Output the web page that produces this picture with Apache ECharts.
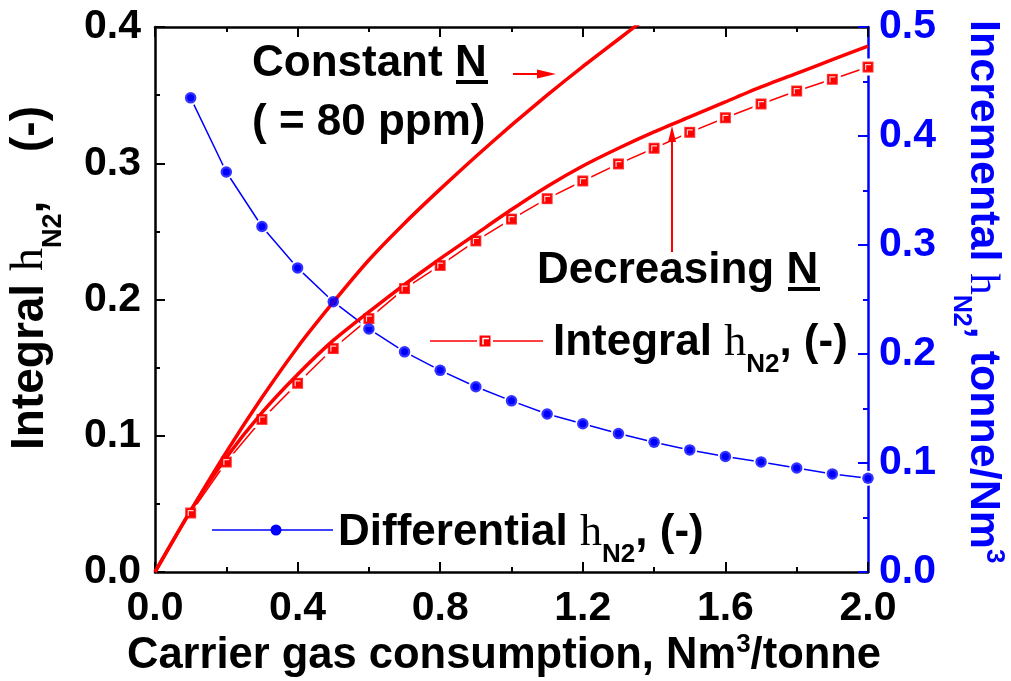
<!DOCTYPE html>
<html><head><meta charset="utf-8">
<script src="https://cdn.jsdelivr.net/npm/echarts@6/dist/echarts.min.js"></script>
<style>html,body{margin:0;padding:0;background:#fff}#c{width:1011px;height:681px}</style>
</head><body><div id="c"></div>
<script>
// ---- data ----
const pointX = [0.1,0.2,0.3,0.4,0.5,0.6,0.7,0.8,0.9,1.0,1.1,1.2,1.3,1.4,1.5,1.6,1.7,1.8,1.9,2.0];
const integralY = [0.0433,0.0807,0.112,0.1385,0.164,0.186,0.208,0.225,0.243,0.259,0.274,0.287,0.2995,0.311,0.3227,0.3334,0.3435,0.353,0.3616,0.3706];
const differentialY = [0.435,0.367,0.317,0.279,0.248,0.223,0.202,0.185,0.170,0.157,0.145,0.136,0.127,0.119,0.112,0.106,0.101,0.0954,0.090,0.086];
const constantX = [0,0.1,0.2,0.3,0.4,0.5,0.6,0.7,0.8,0.9,1.0,1.1,1.2,1.3,1.36];
const constantY = [0,0.045,0.088,0.128,0.165,0.198,0.229,0.256,0.281,0.305,0.328,0.350,0.371,0.391,0.403];
const decreasingX = [0,0.1,0.2,0.3,0.4,0.5,0.6,0.7,0.8,0.9,1.0,1.1,1.2,1.3,1.4,1.5,1.6,1.7,1.8,1.9,2.0];
const decreasingY = [0,0.045,0.084,0.117,0.145,0.170,0.191,0.211,0.230,0.248,0.266,0.283,0.298,0.311,0.323,0.334,0.345,0.356,0.366,0.376,0.386];
const xTicks = {min:0,max:2,interval:0.4};
const yLeftTicks = {min:0,max:0.4,interval:0.1};
const yRightTicks = {min:0,max:0.5,interval:0.1};

const zip = (a,b)=>a.map((v,i)=>[v,b[i]]);
const SANS = 'Liberation Sans, Arial, sans-serif';
const SERIF = 'Liberation Serif, Times New Roman, serif';
const RED = '#ff0000', BLUE = '#0000ff';

const cv = document.createElement('canvas').getContext('2d');
function tw(t, size, weight, fam){ cv.font = (weight||'normal')+' '+size+'px '+fam; return cv.measureText(t).width; }
function richLine(pieces, x, y, rotation, color){
  let cx = 0; const ch = [];
  pieces.forEach(p=>{
    ch.push({type:'text', x:cx, y:(p.dy||0), style:{text:p.t, fill:color, font:(p.weight||'bold')+' '+p.size+'px '+p.fam, textAlign:'left', textVerticalAlign:'bottom', verticalAlign:'bottom'}});
    cx += tw(p.t, p.size, p.weight||'bold', p.fam) + (p.gap||0);
  });
  return {type:'group', x:x, y:y, rotation:rotation||0, children:ch};
}
function hPieces(size, lead, trail, gap){
  return [
    {t:lead, size:size, fam:SANS},
    {t:'h', size:size, weight:'normal', fam:SERIF, dy:0},
    {t:'N2', size:Math.round(size*0.58), fam:SANS, dy:size*0.3},
    {t:',', size:size, fam:SANS, gap:gap||0},
    {t:trail, size:size, fam:SANS}
  ];
}

const chart = echarts.init(document.getElementById('c'), null, {renderer:'canvas'});
const axisCommon = (color, showLabel, margin)=>({
  axisLine:{show:true, onZero:false, lineStyle:{color:color, width:2.5}},
  axisTick:{show:true, inside:true, length:10, lineStyle:{color:color, width:2}},
  minorTick:{show:true, splitNumber:2, length:5, lineStyle:{color:color, width:2}},
  splitLine:{show:false}, minorSplitLine:{show:false},
  axisLabel:{show:showLabel, margin:margin||8, color:color, fontFamily:SANS, fontWeight:'bold', fontSize:41, formatter:v=>v.toFixed(1)}
});

const graphics = [];
graphics.push(richLine([
  {t:'Carrier gas consumption, Nm', size:43.5, fam:SANS},
  {t:'3', size:26, fam:SANS, dy:-20},
  {t:'/tonne', size:43.5, fam:SANS}
], 127, 678, 0, '#000'));
graphics.push(richLine(hPieces(46,'Integral ',' (-)', 36), 53, 450, Math.PI/2, '#000'));
graphics.push(richLine([
  {t:'Incremental ', size:43, fam:SANS},
  {t:'h', size:43, weight:'normal', fam:SERIF},
  {t:'N2', size:25, fam:SANS, dy:13},
  {t:', tonne/Nm', size:43, fam:SANS},
  {t:'3', size:26, fam:SANS, dy:-20}
], 961, 20, -Math.PI/2, BLUE));
graphics.push(richLine([{t:'Constant N', size:44, fam:SANS}], 252, 86, 0, '#000'));
graphics.push({type:'rect', shape:{x:456, y:80, width:32, height:4}, style:{fill:'#000'}});
graphics.push(richLine([{t:'( = 80 ppm)', size:44, fam:SANS}], 252, 145, 0, '#000'));
graphics.push(richLine([{t:'Decreasing N', size:44, fam:SANS}], 537, 293, 0, '#000'));
graphics.push({type:'rect', shape:{x:788, y:287, width:32, height:4}, style:{fill:'#000'}});
graphics.push({type:'line', shape:{x1:513,y1:74,x2:540,y2:74}, style:{stroke:RED, lineWidth:2}});
graphics.push({type:'polygon', shape:{points:[[537,69.5],[556,74],[537,78.5]]}, style:{fill:RED}});
graphics.push({type:'line', shape:{x1:672,y1:252,x2:672,y2:138}, style:{stroke:RED, lineWidth:2}});
graphics.push({type:'polygon', shape:{points:[[668,142],[672,126],[676,142]]}, style:{fill:RED}});
graphics.push({type:'line', shape:{x1:430,y1:341,x2:543,y2:341}, style:{stroke:RED, lineWidth:1.5}});
graphics.push({type:'rect', shape:{x:477,y:334,width:16,height:15}, style:{fill:'#fff'}});
graphics.push({type:'rect', shape:{x:479.5,y:335.5,width:11,height:11}, style:{fill:RED}});
graphics.push({type:'polyline', shape:{points:[[483,344.5],[483,338.5],[489,338.5]]}, style:{stroke:'#fff', lineWidth:1.5, fill:null}});
graphics.push(richLine(hPieces(44,'Integral ',' (-)'), 553, 365, 0, '#000'));
graphics.push({type:'line', shape:{x1:212,y1:530,x2:333,y2:530}, style:{stroke:BLUE, lineWidth:1.5}});
graphics.push({type:'circle', shape:{cx:276,cy:530,r:5.5}, style:{fill:BLUE}});
graphics.push(richLine(hPieces(44,'Differential ',' (-)'), 338, 555, 0, '#000'));

chart.setOption({
  animation:false,
  backgroundColor:'#fff',
  grid:{left:155, right:143, top:27, bottom:109, containLabel:false},
  xAxis:[
    Object.assign({type:'value', position:'bottom'}, xTicks, axisCommon('#000', true, 16)),
    Object.assign({type:'value', position:'top'}, xTicks, axisCommon('#000', false))
  ],
  yAxis:[
    Object.assign({type:'value', position:'left'}, yLeftTicks, axisCommon('#000', true, 14)),
    Object.assign({type:'value', position:'right'}, yRightTicks, axisCommon(BLUE, true, 11))
  ],
  series:[
    {type:'line', name:'Differential', xAxisIndex:0, yAxisIndex:1, data:zip(pointX,differentialY),
     symbol:'circle', symbolSize:11, showSymbol:true, lineStyle:{color:BLUE, width:1.5},
     itemStyle:{color:BLUE, borderColor:'#fff', borderWidth:4}, z:2},
    {type:'line', name:'Integral', xAxisIndex:0, yAxisIndex:0, data:zip(pointX,integralY),
     symbol:'rect', symbolSize:13, lineStyle:{color:RED, width:1.5},
     itemStyle:{color:RED, borderColor:'#fff', borderWidth:4}, z:2},
    {type:'line', name:'Decreasing', xAxisIndex:0, yAxisIndex:0, data:zip(decreasingX,decreasingY),
     showSymbol:false, symbol:'none', smooth:0.2, lineStyle:{color:RED, width:3.5}, z:3},
    {type:'line', name:'Constant', xAxisIndex:0, yAxisIndex:0, data:zip(constantX,constantY),
     showSymbol:false, symbol:'none', smooth:0.2, lineStyle:{color:RED, width:3.5}, z:3},
    {type:'scatter', xAxisIndex:0, yAxisIndex:0, data:zip(pointX,integralY), symbol:'rect', symbolSize:11,
     itemStyle:{color:RED}, z:4, silent:true},
    {type:'scatter', xAxisIndex:0, yAxisIndex:0, data:zip(pointX,integralY),
     symbol:'path://M0,0L10,0L10,2L2,2L2,10L0,10Z', symbolSize:6, itemStyle:{color:'#fff'}, z:5, silent:true},
    {type:'scatter', xAxisIndex:0, yAxisIndex:1, data:zip(pointX,differentialY), symbol:'circle', symbolSize:11.5,
     itemStyle:{color:BLUE}, z:5, silent:true}
  ],
  graphic:graphics
});
</script></body></html>
